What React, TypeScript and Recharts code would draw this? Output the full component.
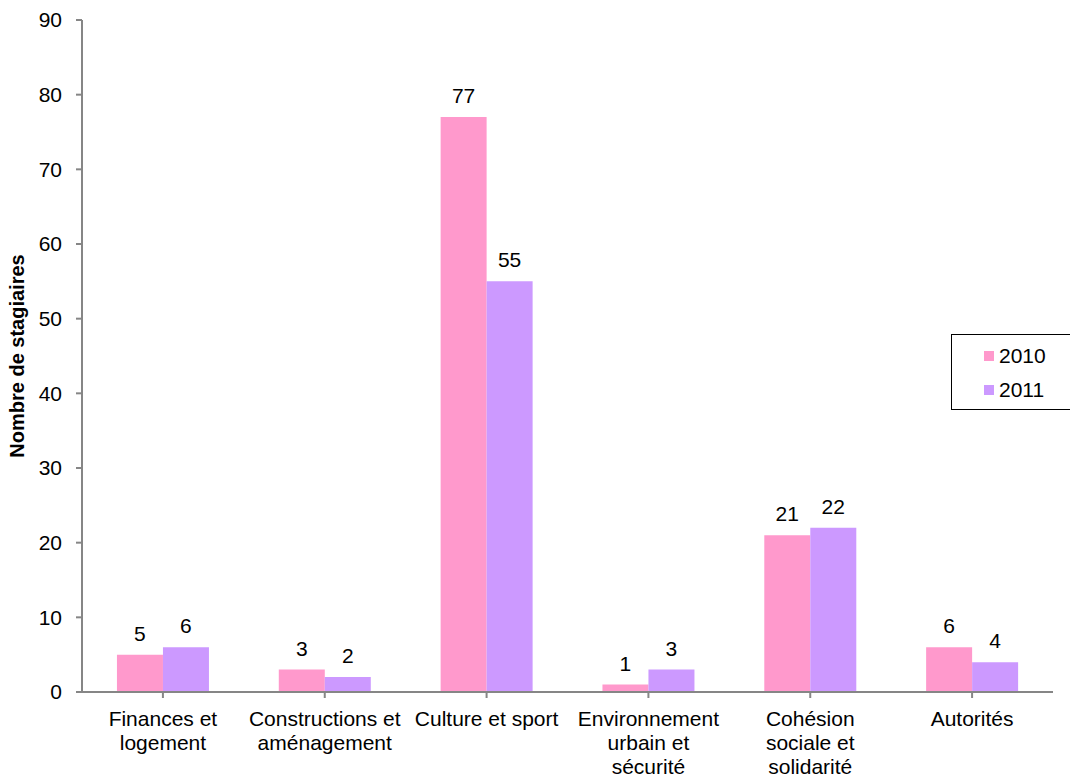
import React from "react";
import { BarChart, Bar, XAxis, YAxis, LabelList } from "recharts";

const categories = [
  "Finances et\nlogement",
  "Constructions et\naménagement",
  "Culture et sport",
  "Environnement\nurbain et\nsécurité",
  "Cohésion\nsociale et\nsolidarité",
  "Autorités",
];
const values2010 = [5, 3, 77, 1, 21, 6];
const values2011 = [6, 2, 55, 3, 22, 4];
const yTicks = [0, 10, 20, 30, 40, 50, 60, 70, 80, 90];

const data = categories.map((name, i) => ({
  name,
  y2010: values2010[i],
  y2011: values2011[i],
}));

const FONT = "'Liberation Sans', Arial, sans-serif";
const AXIS = "#868686";
const PINK = "#FF99CC";
const PURPLE = "#CC99FF";
const FS = 21;

const CategoryTick = (props: any) => {
  const { x, y, payload } = props;
  const lines = String(payload.value).split("\n");
  return (
    <text x={x} y={y} textAnchor="middle" fontFamily={FONT} fontSize={FS} fill="#000">
      {lines.map((ln: string, i: number) => (
        <tspan key={i} x={x} dy={i === 0 ? 26 : 24}>
          {ln}
        </tspan>
      ))}
    </text>
  );
};

const series = [
  { label: "2010", color: PINK },
  { label: "2011", color: PURPLE },
];

const LegendBox = () => (
  <div
    style={{
      position: "absolute",
      left: 951,
      top: 334,
      width: 125,
      height: 76,
      border: "1.5px solid #000",
      background: "#fff",
      boxSizing: "border-box",
      fontFamily: FONT,
      fontSize: FS,
      padding: "4px 0 0 32px",
    }}
  >
    {series.map((it) => (
      <div key={it.label} style={{ display: "flex", alignItems: "center", height: 34 }}>
        <span style={{ width: 10, height: 10, background: it.color, marginRight: 5 }} />
        <span>{it.label}</span>
      </div>
    ))}
  </div>
);

export default function App() {
  return (
    <div style={{ position: "absolute", left: 0, top: 0, width: 1070, height: 778, background: "#fff", overflow: "hidden" }}>
      <BarChart
        width={1070}
        height={778}
        data={data}
        margin={{ top: 20, right: 17, bottom: 0, left: 0 }}
        barCategoryGap="21.6%"
        barGap={0}
      >
        <XAxis
          dataKey="name"
          axisLine={{ stroke: AXIS, strokeWidth: 2 }}
          tickLine={{ stroke: AXIS, strokeWidth: 2 }}
          tickSize={6}
          tick={<CategoryTick />}
          interval={0}
          height={86}
        />
        <YAxis
          domain={[0, 90]}
          ticks={yTicks}
          interval={0}
          width={82}
          axisLine={{ stroke: AXIS, strokeWidth: 2 }}
          tickLine={{ stroke: AXIS, strokeWidth: 2 }}
          tickSize={6}
          tickMargin={14}
          tick={{ fontFamily: FONT, fontSize: FS, fill: "#000" }}
          label={{
            value: "Nombre de stagiaires",
            angle: -90,
            position: "insideLeft",
            dx: 12,
            style: { fontFamily: FONT, fontSize: 20, fontWeight: "bold", fill: "#000", textAnchor: "middle" },
          }}
        />
        <Bar dataKey="y2010" name="2010" fill={PINK} isAnimationActive={false}>
          <LabelList
            dataKey="y2010"
            position="top"
            offset={14}
            style={{ fontFamily: FONT, fontSize: FS, fill: "#000" }}
          />
        </Bar>
        <Bar dataKey="y2011" name="2011" fill={PURPLE} isAnimationActive={false}>
          <LabelList
            dataKey="y2011"
            position="top"
            offset={14}
            style={{ fontFamily: FONT, fontSize: FS, fill: "#000" }}
          />
        </Bar>
      </BarChart>
      <LegendBox />
    </div>
  );
}
